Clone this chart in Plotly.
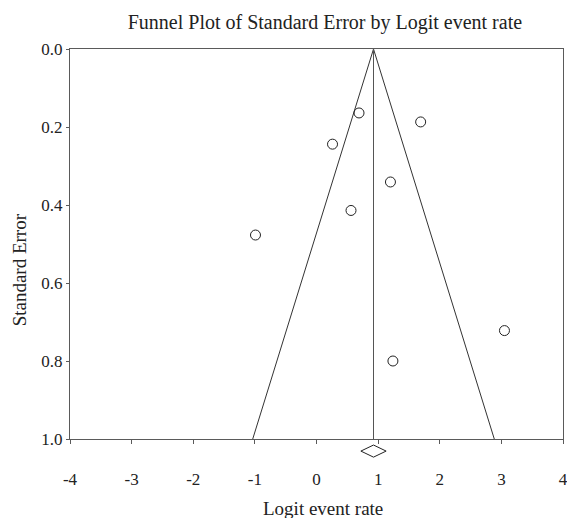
import plotly.graph_objects as go

# Study data (logit event rate, standard error)
logit_rate = [0.69, 0.26, 1.69, 1.20, 0.56, -0.99, 1.24, 3.05]
std_error = [0.164, 0.244, 0.187, 0.341, 0.414, 0.477, 0.800, 0.722]

# Pooled estimate and its confidence interval
pooled = 0.925
ci_low = 0.72
ci_high = 1.13
z = 1.96
se_max = 1.0

x_ticks = [-4, -3, -2, -1, 0, 1, 2, 3, 4]
y_ticks = [0.0, 0.2, 0.4, 0.6, 0.8, 1.0]

FONT = "Liberation Serif"
AX = "#5a5a5a"

fig = go.Figure()

# funnel lines
fig.add_trace(go.Scatter(
    x=[pooled - z * se_max, pooled, pooled + z * se_max],
    y=[se_max, 0, se_max],
    mode="lines", line=dict(color="#333333", width=1), hoverinfo="skip"))
# vertical line at pooled estimate
fig.add_trace(go.Scatter(
    x=[pooled, pooled], y=[0, se_max],
    mode="lines", line=dict(color="#555555", width=1), hoverinfo="skip"))
# studies
fig.add_trace(go.Scatter(
    x=logit_rate, y=std_error, mode="markers",
    marker=dict(symbol="circle-open", size=10, color="#222222",
                line=dict(width=1, color="#222222"))))

# diamond under the axis (pooled estimate & CI)
yc, hh = -0.031, 0.0155
fig.add_shape(type="path", xref="x", yref="paper",
              path=f"M {ci_low} {yc} L {pooled} {yc+hh} L {ci_high} {yc} L {pooled} {yc-hh} Z",
              line=dict(color="#222222", width=1), fillcolor="rgba(0,0,0,0)")

# y axis title
fig.add_annotation(text="Standard Error", xref="paper", yref="paper",
                   x=-0.103, y=0.433, xanchor="center", yanchor="middle",
                   textangle=-90, showarrow=False,
                   font=dict(family=FONT, size=19, color="#222222"))
# x axis title
fig.add_annotation(text="Logit event rate", xref="paper", yref="paper",
                   x=0.513, y=-0.177, xanchor="center", yanchor="middle",
                   showarrow=False,
                   font=dict(family=FONT, size=19, color="#222222"))

fig.update_layout(
    width=567, height=518,
    margin=dict(l=70, r=4, t=49, b=79),
    paper_bgcolor="white", plot_bgcolor="white",
    showlegend=False,
    font=dict(family=FONT, size=17, color="#222222"),
    title=dict(text="Funnel Plot of Standard Error by Logit event rate",
               x=0.573, xanchor="center", y=0.9575, yanchor="middle",
               font=dict(family=FONT, size=20, color="#222222")),
    xaxis=dict(range=[-4, 4], tickvals=x_ticks, ticktext=[str(v) for v in x_ticks],
               showgrid=False, zeroline=False, showline=True, linecolor=AX, linewidth=1,
               mirror=True, ticks="outside", ticklen=4, tickcolor=AX,
               ticklabelstandoff=21, ticklabeloverflow="allow", automargin=False),
    yaxis=dict(range=[1, 0], tickvals=y_ticks, ticktext=[f"{v:.1f}" for v in y_ticks],
               showgrid=False, zeroline=False, showline=True, linecolor=AX, linewidth=1,
               mirror=True, ticks="outside", ticklen=3, tickcolor=AX,
               automargin=False),
)

fig.write_html("out.html", config={"displayModeBar": False},
               post_script="document.body.style.margin='0';document.body.style.overflow='hidden';")
